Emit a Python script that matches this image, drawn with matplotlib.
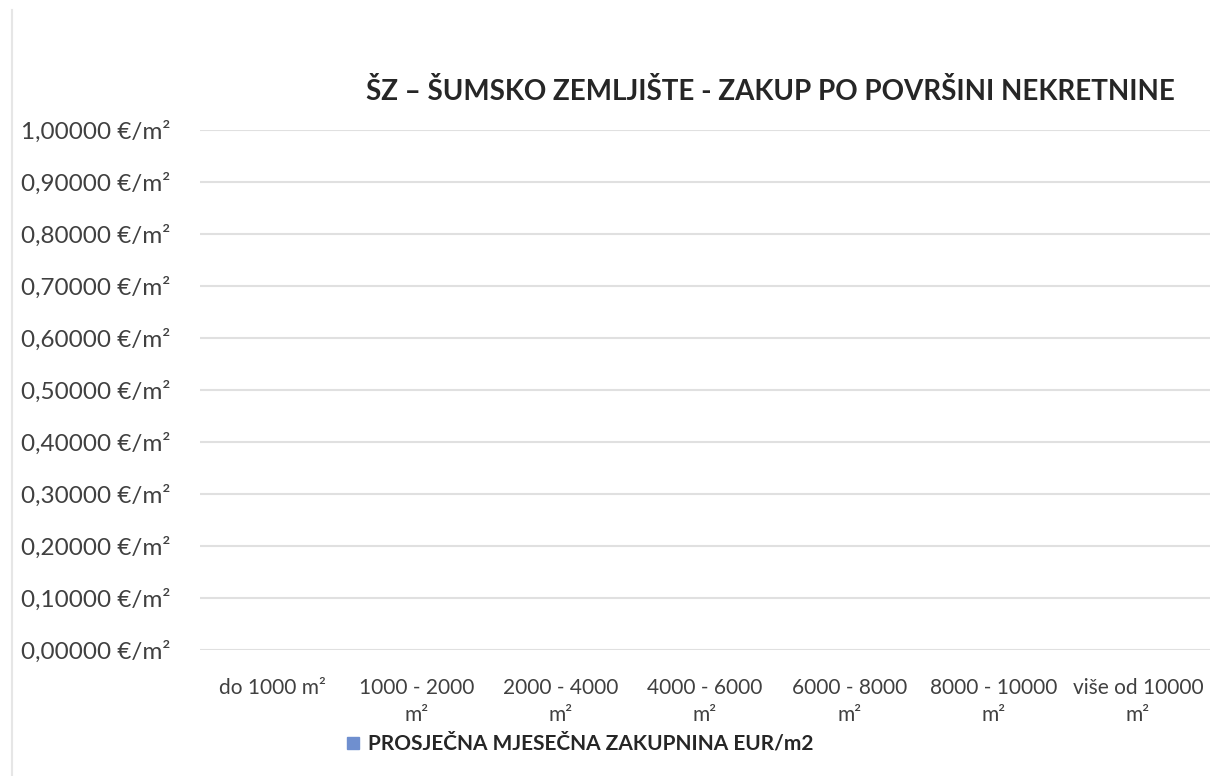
import matplotlib.pyplot as plt
from matplotlib.lines import Line2D

# chart data (every category is empty / zero)
categories = ['do 1000 m²', '1000 - 2000\nm²', '2000 - 4000\nm²', '4000 - 6000\nm²',
              '6000 - 8000\nm²', '8000 - 10000\nm²', 'više od 10000\nm²']
values = [0, 0, 0, 0, 0, 0, 0]
yticks = [0.0, 0.1, 0.2, 0.3, 0.4, 0.5, 0.6, 0.7, 0.8, 0.9, 1.0]
series_name = 'PROSJEČNA MJESEČNA ZAKUPNINA EUR/m2'
title = 'ŠZ – ŠUMSKO ZEMLJIŠTE - ZAKUP PO POVRŠINI NEKRETNINE'

plt.rcParams['font.family'] = ['Lato', 'DejaVu Sans']

W, H = 1219, 776
fig = plt.figure(figsize=(W / 100, H / 100), dpi=100)
ax = fig.add_axes([200 / W, 1 - 650 / H, 1010 / W, 520 / H])

x = range(len(categories))
bars = ax.bar(x, values, width=0.6, color='#4472C4', label=series_name)

ax.set_xlim(-0.5, len(categories) - 0.5)
ax.set_ylim(0, 1.0)
ax.set_yticks(yticks)
ax.set_yticklabels([f'{v:.5f}'.replace('.', ',') + ' €/m²' for v in yticks],
                   fontsize=17.5, color='#404040')
ax.set_xticks(list(x))
ax.set_xticklabels(categories, fontsize=15, color='#404040', linespacing=1.45)
ax.tick_params(axis='both', length=0)
ax.tick_params(axis='y', pad=21)
ax.tick_params(axis='x', pad=20)

ax.yaxis.grid(True, color='#e0e0e0', linewidth=1.5)
ax.set_axisbelow(True)
for s in ax.spines.values():
    s.set_visible(False)

fig.text(770 / W, 1 - 92 / H, title, fontsize=20, fontweight='bold',
         color='#262626', ha='center', va='center')

handle = Line2D([], [], marker='s', linestyle='none', markersize=8,
                markerfacecolor='#6f8fcf', markeredgecolor='#6f8fcf')
fig.legend([handle], [series_name], loc='center', bbox_to_anchor=(578 / W, 1 - 744 / H),
           frameon=False, prop={'size': 15, 'weight': 'bold'}, labelcolor='#262626',
           handletextpad=0.2, handlelength=1.0)

# faint outer border of the scanned chart
fig.add_artist(Line2D([12 / W, 12 / W], [0, 1 - 10 / H], color='#e6e6e6', linewidth=1.5))

fig.savefig('out.png', dpi=100, facecolor='white')
